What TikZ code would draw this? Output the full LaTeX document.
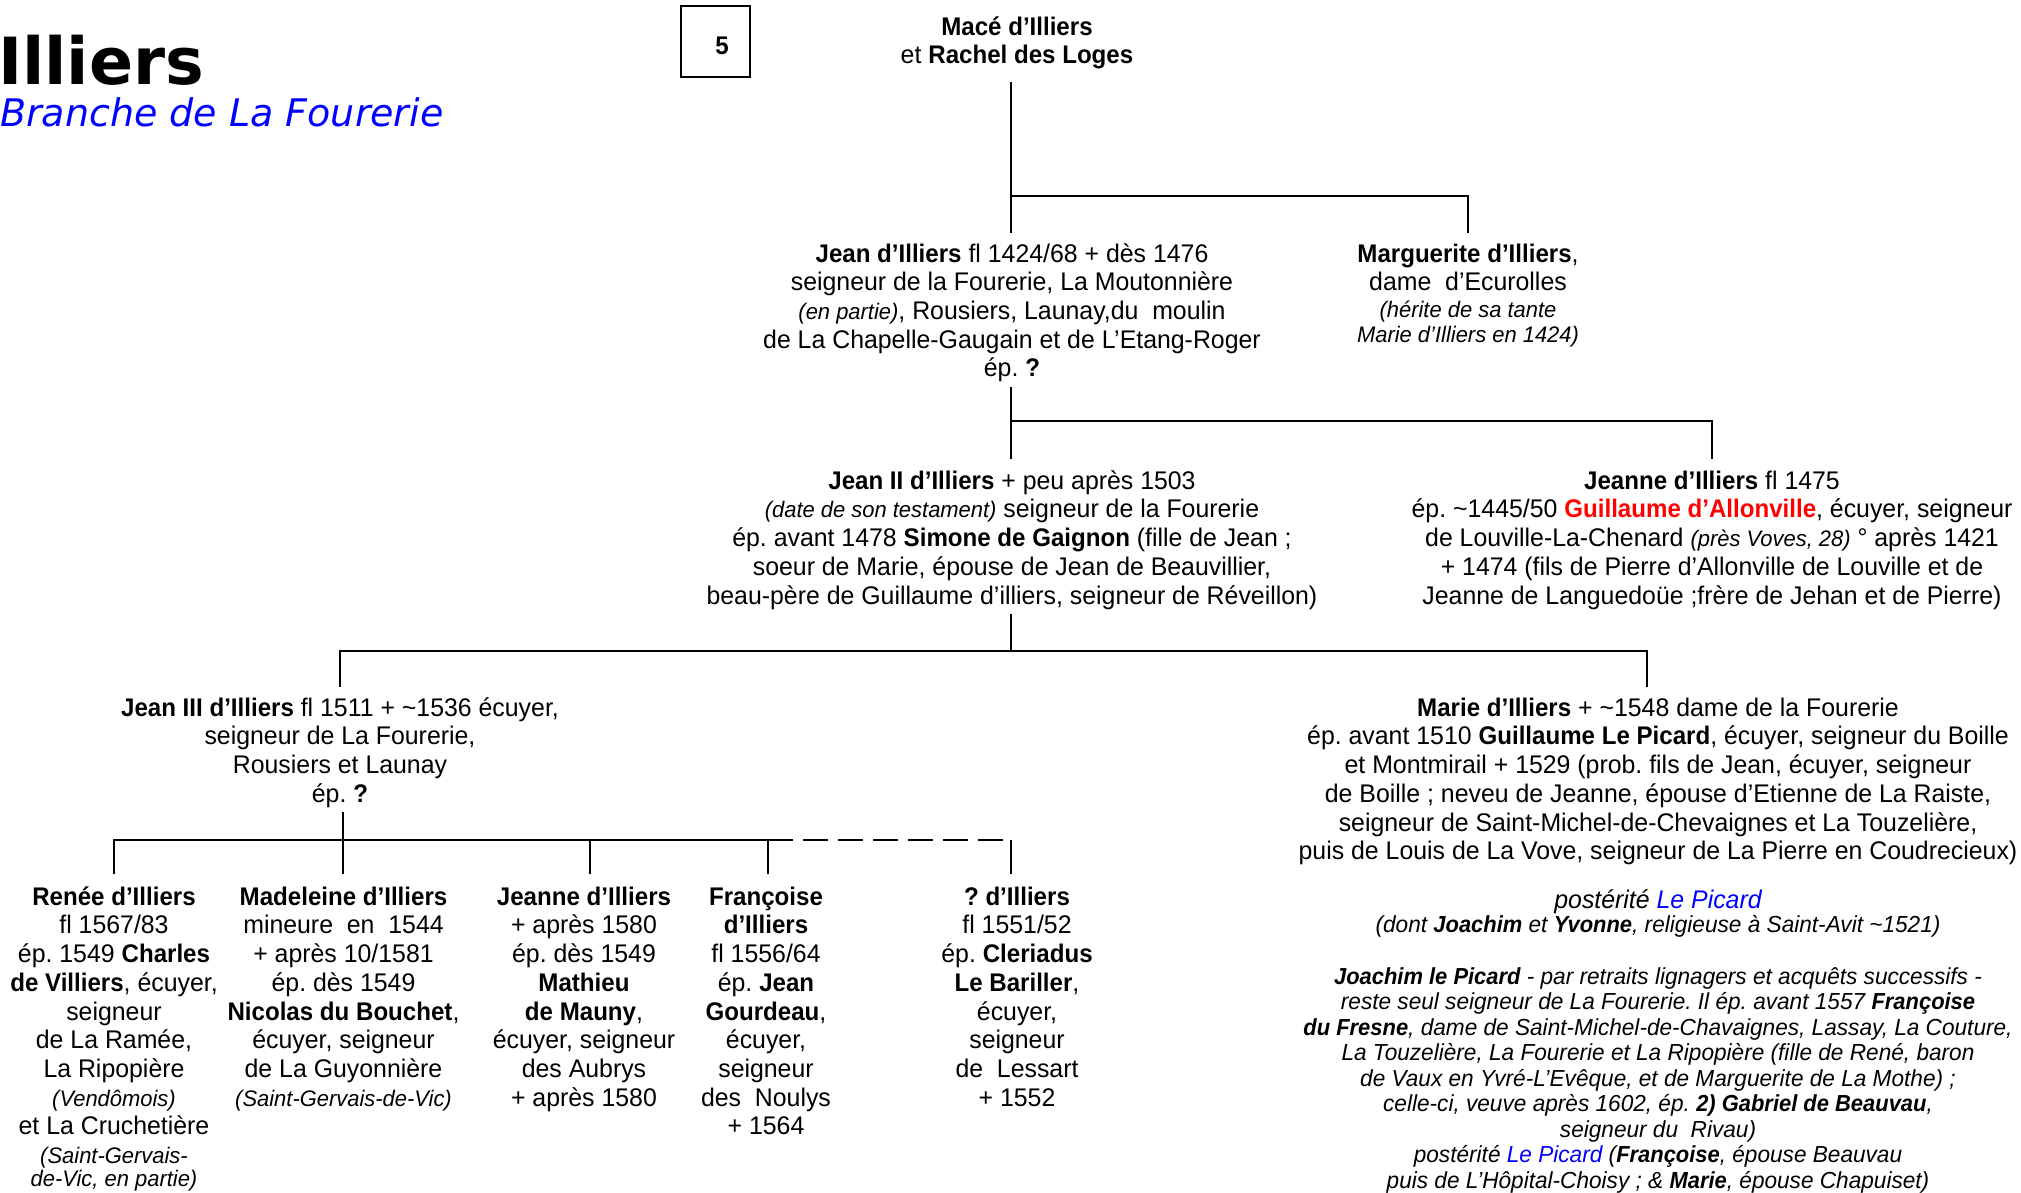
\documentclass[tikz,border=0pt]{standalone}
\usepackage{fontspec}
\setmainfont{Liberation Sans}[FakeStretch=0.975,BoldFeatures={FakeStretch=0.945},BoldItalicFeatures={FakeStretch=0.945}]
\newfontfamily\titlefont{DejaVu Sans}
\definecolor{tblue}{RGB}{0,0,255}
\definecolor{tred}{RGB}{255,0,0}
\newcommand\tld{\textasciitilde}
\newcommand\sm[1]{{\fontsize{22.5}{25}\selectfont\itshape #1}}
\frenchspacing
\begin{document}
\begin{tikzpicture}[x=1pt,y=-1pt,
  person/.style={align=center,anchor=north,inner sep=0pt,font=\fontsize{25.5}{28.7}\selectfont},
  note/.style={align=center,anchor=north,inner sep=0pt,font=\fontsize{23.2}{25.5}\selectfont\itshape},
  link/.style={line width=2.2pt},
  dlink/.style={line width=2.2pt,dash pattern=on 25pt off 10pt}]
\useasboundingbox (0,0) rectangle (2021,1192);

% titles
\node[anchor=base west,inner sep=0pt,font=\titlefont\bfseries\fontsize{65}{70}\selectfont] (title) at (-2,84) {Illiers};
\node[anchor=base west,inner sep=0pt,text=tblue,font=\titlefont\itshape\fontsize{38}{44}\selectfont] (subtitle) at (0,126) {Branche de La Fourerie};

% number box
\node[draw,line width=1.5pt,minimum width=69pt,minimum height=71pt,inner sep=0pt] (num) at (715.5,41.5) {};
\node[inner sep=0pt,font=\bfseries\fontsize{25.5}{28}\selectfont] (numtext) at (722,46) {5};

% generation 0
\node[person] (mace) at (1017,14.9) {\strut\textbf{Macé d’Illiers}\\ et \textbf{Rachel des Loges}};

% generation 1
\node[person] (jean1) at (1012,241.9) {\strut\textbf{Jean d’Illiers} fl 1424/68 + dès 1476\\
seigneur de la Fourerie, La Moutonnière\\
\sm{(en partie)}, Rousiers, Launay,du\ \ moulin\\
de La Chapelle-Gaugain et de L’Etang-Roger\\
ép. \textbf{?}};

\node[person] (marg) at (1468,241.9) {\strut\textbf{Marguerite d’Illiers},\\
dame\ \ d’Ecurolles\\[-1.7pt]
\sm{(hérite\ de\ sa\ tante}\\[-4.2pt]
\sm{Marie\ d’Illiers\ en\ 1424)}};

% generation 2
\node[person] (jean2) at (1012,468.9) {\strut\textbf{Jean II d’Illiers} + peu après 1503\\
\sm{(date de son testament)} seigneur de la Fourerie\\
ép. avant 1478 \textbf{Simone de Gaignon} (fille de Jean ;\\
soeur de Marie, épouse de Jean de Beauvillier,\\
beau-père de Guillaume d’illiers, seigneur de Réveillon)};

\node[person] (jeanne) at (1712,468.9) {\strut\textbf{Jeanne d’Illiers} fl 1475\\
ép. \tld1445/50 \textcolor{tred}{\textbf{Guillaume d’Allonville}}, écuyer, seigneur\\
de Louville-La-Chenard \sm{(près Voves, 28)} ° après 1421\\
+ 1474 (fils de Pierre d’Allonville de Louville et de\\
Jeanne de Languedoüe ;frère de Jehan et de Pierre)};

% generation 3
\node[person] (jean3) at (340,695.9) {\strut\textbf{Jean III d’Illiers} fl 1511 + \tld1536 écuyer,\\
seigneur de La Fourerie,\\
Rousiers et Launay\\
ép. \textbf{?}};

\node[person] (marie) at (1658,695.9) {\strut\textbf{Marie d’Illiers} + \tld1548 dame de la Fourerie\\
ép. avant 1510 \textbf{Guillaume Le Picard}, écuyer, seigneur du Boille\\
et Montmirail + 1529 (prob. fils de Jean, écuyer, seigneur\\
de Boille ; neveu de Jeanne, épouse d’Etienne de La Raiste,\\
seigneur de Saint-Michel-de-Chevaignes et La Touzelière,\\
puis de Louis de La Vove, seigneur de La Pierre en Coudrecieux)};

% generation 4
\node[person] (renee) at (114,884.9) {\strut\textbf{Renée d’Illiers}\\
fl 1567/83\\
ép. 1549 \textbf{Charles}\\
\textbf{de Villiers}, écuyer,\\
seigneur\\
de La Ramée,\\
La Ripopière\\
\sm{(Vendômois)}\\
et La Cruchetière\\
\sm{(Saint-Gervais-}\\[-5.7pt]
\sm{de-Vic, en partie)}};

\node[person] (madeleine) at (343.5,884.9) {\strut\textbf{Madeleine d’Illiers}\\
mineure\ \ en\ \ 1544\\
+ après 10/1581\\
ép. dès 1549\\
\textbf{Nicolas du Bouchet},\\
écuyer, seigneur\\
de La Guyonnière\\
\sm{(Saint-Gervais-de-Vic)}};

\node[person] (jeanneC) at (584,884.9) {\strut\textbf{Jeanne d’Illiers}\\
+ après 1580\\
ép. dès 1549\\
\textbf{Mathieu}\\
\textbf{de Mauny},\\
écuyer, seigneur\\
des Aubrys\\
+ après 1580};

\node[person] (francoise) at (766,884.9) {\strut\textbf{Françoise}\\
\textbf{d’Illiers}\\
fl 1556/64\\
ép. \textbf{Jean}\\
\textbf{Gourdeau},\\
écuyer,\\
seigneur\\
des\ \ Noulys\\
+ 1564};

\node[person] (inconnu) at (1017,884.9) {\strut\textbf{? d’Illiers}\\
fl 1551/52\\
ép. \textbf{Cleriadus}\\
\textbf{Le Bariller},\\
écuyer,\\
seigneur\\
de\ \ Lessart\\
+ 1552};

% descendants of Marie
\node[person] (post) at (1658,887.9) {\strut\itshape postérité \textcolor{tblue}{Le Picard}\\[-4.2pt]
{\fontsize{23.2}{25.5}\selectfont\itshape (dont \textbf{Joachim} et \textbf{Yvonne}, religieuse à Saint-Avit \tld1521)}};

\node[note] (joachim) at (1658,966.15) {\strut\textbf{Joachim le Picard} - par retraits lignagers et acquêts successifs -\\
reste seul seigneur de La Fourerie. Il ép. avant 1557 \textbf{Françoise}\\
\textbf{du Fresne}, dame de Saint-Michel-de-Chavaignes, Lassay, La Couture,\\
La Touzelière, La Fourerie et La Ripopière (fille de René, baron\\
de Vaux en Yvré-L’Evêque, et de Marguerite de La Mothe) ;\\
celle-ci, veuve après 1602, ép. \textbf{2) Gabriel de Beauvau},\\
seigneur du\ \ Rivau)\\
postérité \textcolor{tblue}{Le Picard} (\textbf{Françoise}, épouse Beauvau\\
puis de L’Hôpital-Choisy ; \& \textbf{Marie}, épouse Chapuiset)};

% junctions
\coordinate (j1) at (1011,196);
\coordinate (j2) at (1011,421);
\coordinate (j3) at (1011,651);
\coordinate (j3r) at (1647,651);
\coordinate (j4) at (343,840);
\coordinate (j4c) at (590,840);
\coordinate (j5) at (768,840);
\coordinate (j6) at (1011,840);

% connectors
\draw[link] ([yshift=-13pt]mace.south -| j1) -- ([yshift=9pt]jean1.north -| j1);
\draw[link] (j1) -| ([yshift=9pt]marg.north);

\draw[link] ([yshift=-5pt]jean1.south -| j2) -- ([yshift=10pt]jean2.north -| j2);
\draw[link] (j2) -| ([yshift=10pt]jeanne.north);

\draw[link] ([yshift=-5pt]jean2.south -| j3) -- (j3);
\draw[link] ([yshift=9pt]jean3.north) |- (j3r) -- ([yshift=9pt]marie.north -| j3r);

\draw[link] ([yshift=-4.5pt]jean3.south -| j4) -- ([yshift=11pt]madeleine.north -| j4);
\draw[link] ([yshift=11pt]renee.north) |- (j5) -- ([yshift=11pt]francoise.north -| j5);
\draw[link] (j4c) -- ([yshift=11pt]jeanneC.north -| j4c);
\draw[dlink] (j5) -- (j6);
\draw[link] (j6) -- ([yshift=11pt]inconnu.north -| j6);
\end{tikzpicture}
\end{document}
